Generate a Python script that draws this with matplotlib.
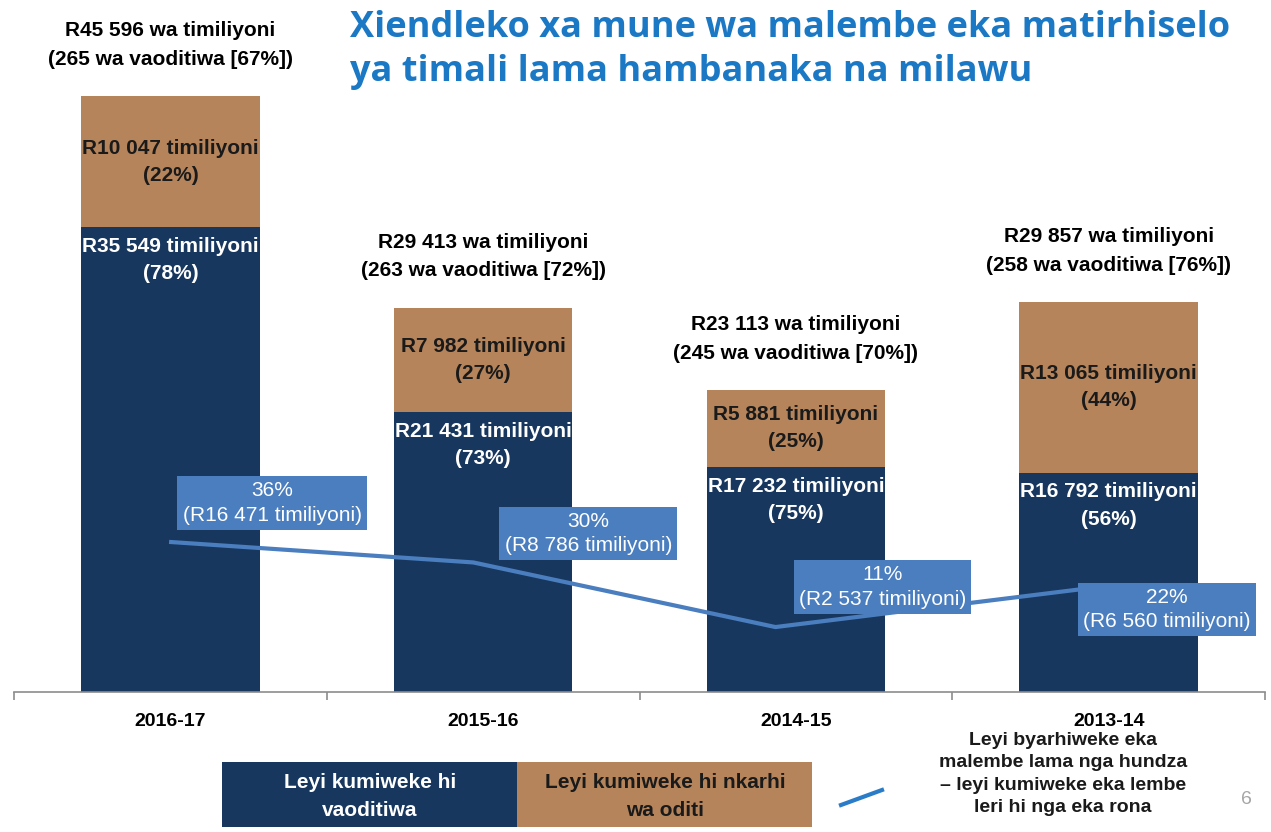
import matplotlib.pyplot as plt
from matplotlib.patches import Rectangle
from matplotlib.lines import Line2D

# values (R million)
years = ["2016-17", "2015-16", "2014-15", "2013-14"]
auditee_amt = [35549, 21431, 17232, 16792]
audit_amt = [10047, 7982, 5881, 13065]
total_amt = [45596, 29413, 23113, 29857]
auditee_pct = [78, 73, 75, 56]
audit_pct = [22, 27, 25, 44]
n_auditees = [265, 263, 245, 258]
auditee_share = [67, 72, 70, 76]
prior_pct = [36, 30, 11, 22]
prior_amt = [16471, 8786, 2537, 6560]

NAVY = "#17375E"
BROWN = "#B5845B"
LBLUE = "#4A7EBF"
TITLE = "#1A78C4"


def fmt(v):
    return f"{v:,}".replace(",", " ")


def main():
    plt.rcParams["font.family"] = ["Liberation Sans", "DejaVu Sans"]
    fig = plt.figure(figsize=(12.71, 8.32), dpi=100)
    W, H = 1271, 832
    pos = [14 / W, (H - 692) / H, (1265 - 14) / W, 692 / H]

    # ---- stacked bars ----
    ax = fig.add_axes(pos)
    x = list(range(len(years)))
    ax.bar(x, auditee_amt, width=0.57, color=NAVY, zorder=2)
    ax.bar(x, audit_amt, width=0.57, bottom=auditee_amt, color=BROWN, zorder=2)
    ax.set_xlim(-0.5, 3.5)
    ax.set_ylim(0, 52945)

    for s in ["left", "right", "top"]:
        ax.spines[s].set_visible(False)
    ax.spines["bottom"].set_color("#8C8C8C")
    ax.spines["bottom"].set_linewidth(1.2)
    ax.set_yticks([])
    ax.set_xticks([-0.5, 0.5, 1.5, 2.5, 3.5])
    ax.set_xticklabels([])
    ax.set_xticks(x, minor=True)
    ax.set_xticklabels(years, minor=True, fontsize=14, fontweight="bold")
    ax.tick_params(axis="x", which="major", length=6, width=1.2,
                   color="#8C8C8C")
    ax.tick_params(axis="x", which="minor", length=0, pad=15)

    for i in x:
        top = total_amt[i]
        ax.annotate(f"R{fmt(top)} wa timiliyoni\n({n_auditees[i]} wa vaoditiwa [{auditee_share[i]}%])",
                    (i, top), xytext=(0, 51), textcoords="offset pixels",
                    ha="center", va="center", fontsize=15, fontweight="bold",
                    linespacing=1.65, annotation_clip=False)
        ax.annotate(f"R{fmt(auditee_amt[i])} timiliyoni\n({auditee_pct[i]}%)",
                    (i, auditee_amt[i]), xytext=(0, -33), textcoords="offset pixels",
                    ha="center", va="center", fontsize=15, fontweight="bold",
                    color="white", linespacing=1.55, zorder=3)
        ax.text(i, auditee_amt[i] + audit_amt[i] / 2,
                f"R{fmt(audit_amt[i])} timiliyoni\n({audit_pct[i]}%)",
                ha="center", va="center", fontsize=15, fontweight="bold",
                color="#1A1A1A", linespacing=1.55, zorder=3)

    # ---- prior-year line (secondary axes) ----
    ax2 = fig.add_axes(pos, frameon=False)
    ax2.plot(x, prior_pct, color=LBLUE, lw=3, zorder=2, solid_joinstyle="round")
    ax2.set_xlim(-0.52, 3.62)
    ax2.set_ylim(-8.1, 195.4)
    ax2.set_xticks([])
    ax2.set_yticks([])

    offsets = [(101, 39), (115, 29), (107, 40), (89, -20)]
    for i in x:
        ax2.annotate(f"{prior_pct[i]}%\n(R{fmt(prior_amt[i])} timiliyoni)",
                     (i, prior_pct[i]), xytext=offsets[i], textcoords="offset pixels",
                     ha="center", va="center", fontsize=15, color="white",
                     linespacing=1.35, zorder=3,
                     bbox=dict(boxstyle="square,pad=0.25", fc=LBLUE, ec="none"))

    # ---- title ----
    fig.text(350 / W, 1 - 28 / H, "Xiendleko xa mune wa malembe eka matirhiselo",
             family="Open Sans", fontweight="bold", fontsize=26, color=TITLE,
             ha="left", va="center")
    fig.text(350 / W, 1 - 72 / H, "ya timali lama hambanaka na milawu",
             family="Open Sans", fontweight="bold", fontsize=26, color=TITLE,
             ha="left", va="center")

    # ---- legend at the bottom ----
    fig.patches.append(Rectangle((222 / W, 1 - 827 / H), 295 / W, 65 / H,
                                 transform=fig.transFigure, fc=NAVY, ec="none"))
    fig.patches.append(Rectangle((517 / W, 1 - 827 / H), 295 / W, 65 / H,
                                 transform=fig.transFigure, fc=BROWN, ec="none"))
    fig.text(370 / W, 1 - 797 / H, "Leyi kumiweke hi\nvaoditiwa", ha="center",
             va="center", fontsize=15, fontweight="bold", color="white",
             linespacing=1.6)
    fig.text(665 / W, 1 - 797 / H, "Leyi kumiweke hi nkarhi\nwa oditi", ha="center",
             va="center", fontsize=15, fontweight="bold", color="#1A1A1A",
             linespacing=1.6)
    fig.lines.append(Line2D([841 / W, 882 / W], [1 - 805 / H, 1 - 790 / H],
                            transform=fig.transFigure, color="#2A7CC8", lw=3))
    fig.text(1063 / W, 1 - 732 / H,
             "Leyi byarhiweke eka\nmalembe lama nga hundza\n\u2013 leyi kumiweke eka lembe\nleri hi nga eka rona",
             ha="center", va="top", fontsize=14, fontweight="bold",
             color="#1A1A1A", linespacing=1.42)
    fig.text(1246 / W, 1 - 800 / H, "6", ha="center", va="center",
             fontsize=14, color="#A6A6A6")

    fig.savefig("out.png", dpi=100)


if __name__ == "__main__":
    main()
